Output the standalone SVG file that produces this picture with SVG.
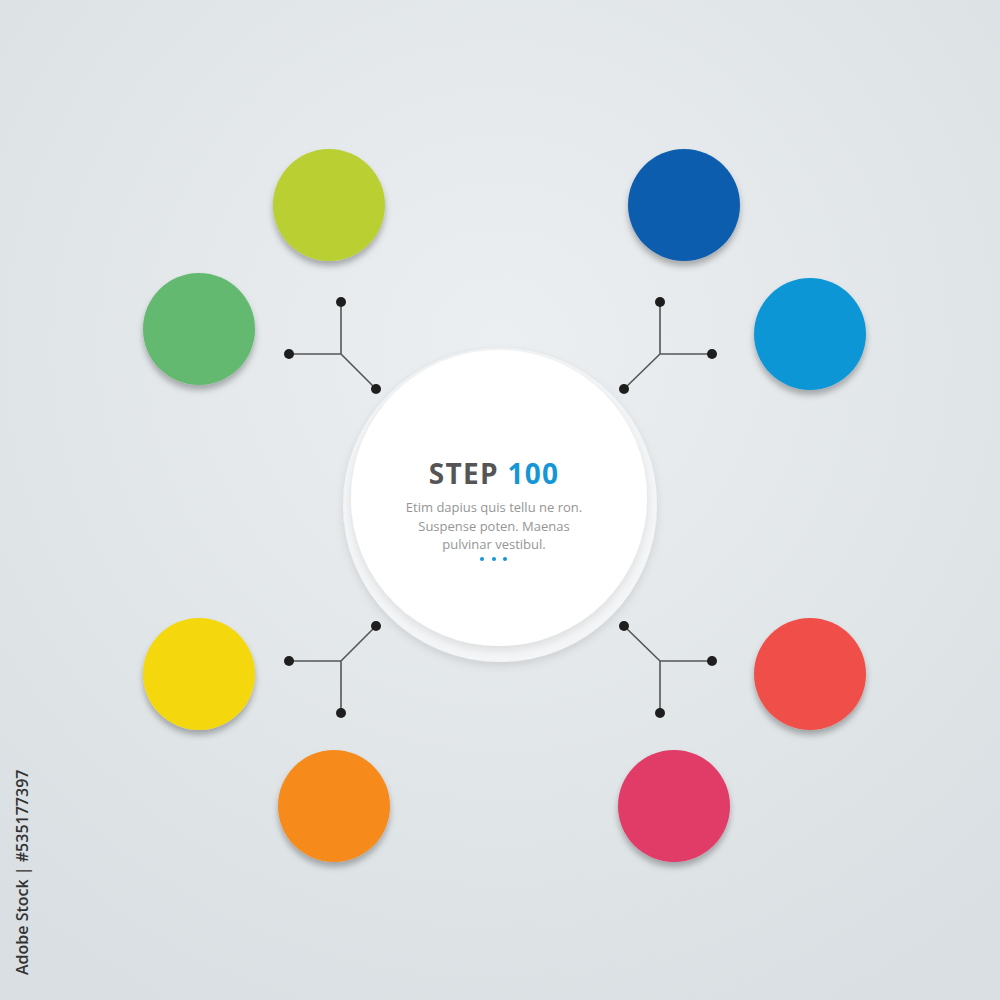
<svg xmlns="http://www.w3.org/2000/svg" width="1000" height="1000" viewBox="0 0 1000 1000">
<defs>
<radialGradient id="bg" cx="50%" cy="35%" r="75%">
<stop offset="0" stop-color="#eceff1"/>
<stop offset="1" stop-color="#d9dfe2"/>
</radialGradient>
<filter id="sh" x="-30%" y="-30%" width="160%" height="160%">
<feDropShadow dx="0" dy="5" stdDeviation="3" flood-color="#000" flood-opacity="0.28"/>
</filter>
<filter id="shc" x="-20%" y="-20%" width="140%" height="140%">
<feDropShadow dx="0" dy="4" stdDeviation="4" flood-color="#000" flood-opacity="0.1"/>
</filter>
<style>
.ln{stroke:#555;stroke-width:1.6;fill:none}
.dt{fill:#1e1e1e}
.body{font-family:"Open Sans","Liberation Sans",sans-serif;font-size:13px;fill:#959595;text-anchor:middle}
</style>
</defs>
<rect width="1000" height="1000" fill="url(#bg)"/>

<g id="center">
<circle cx="500" cy="505" r="157" fill="#f4f5f6" filter="url(#shc)"/>
<circle cx="499" cy="498" r="148" fill="#ffffff" filter="url(#shc)"/>
<text x="494" y="484" text-anchor="middle" font-family="'Open Sans','Liberation Sans',sans-serif" font-weight="bold" font-size="28" letter-spacing="1.3"><tspan fill="#555555">STEP </tspan><tspan fill="#1596d6">100</tspan></text>
<text class="body" x="494" y="512">Etim dapius quis tellu ne ron.</text>
<text class="body" x="494" y="531">Suspense poten. Maenas</text>
<text class="body" x="494" y="549">pulvinar vestibul.</text>
<circle cx="482" cy="559" r="2" fill="#1596d6"/>
<circle cx="494" cy="559" r="2" fill="#1596d6"/>
<circle cx="505" cy="559" r="2" fill="#1596d6"/>
</g>

<g id="connectors">
<path class="ln" d="M341 302V354H289M341 354L376 389"/>
<path class="ln" d="M660 302V354H712M660 354L624 389"/>
<path class="ln" d="M341 713V661H289M341 661L376 626"/>
<path class="ln" d="M660 713V661H712M660 661L624 626"/>
<circle class="dt" cx="341" cy="302" r="5"/><circle class="dt" cx="289" cy="354" r="5"/><circle class="dt" cx="376" cy="389" r="5"/>
<circle class="dt" cx="660" cy="302" r="5"/><circle class="dt" cx="712" cy="354" r="5"/><circle class="dt" cx="624" cy="389" r="5"/>
<circle class="dt" cx="341" cy="713" r="5"/><circle class="dt" cx="289" cy="661" r="5"/><circle class="dt" cx="376" cy="626" r="5"/>
<circle class="dt" cx="660" cy="713" r="5"/><circle class="dt" cx="712" cy="661" r="5"/><circle class="dt" cx="624" cy="626" r="5"/>
</g>

<g id="n-lime"><circle cx="329" cy="205" r="56" fill="#b9cf32" filter="url(#sh)"/></g>
<g id="n-green"><circle cx="199" cy="329" r="56" fill="#63b96f" filter="url(#sh)"/></g>
<g id="n-darkblue"><circle cx="684" cy="205" r="56" fill="#0a5dae" filter="url(#sh)"/></g>
<g id="n-lightblue"><circle cx="810" cy="334" r="56" fill="#0e96d6" filter="url(#sh)"/></g>
<g id="n-yellow"><circle cx="199" cy="674" r="56" fill="#f4d80a" filter="url(#sh)"/></g>
<g id="n-orange"><circle cx="334" cy="806" r="56" fill="#f68b1f" filter="url(#sh)"/></g>
<g id="n-red"><circle cx="810" cy="674" r="56" fill="#f0504a" filter="url(#sh)"/></g>
<g id="n-pink"><circle cx="674" cy="806" r="56" fill="#e13a67" filter="url(#sh)"/></g>

<text transform="translate(28 975) rotate(-90)" font-family="'Open Sans','Liberation Sans',sans-serif" font-weight="600" font-size="16" fill="#333333">Adobe Stock | #535177397</text>
</svg>
